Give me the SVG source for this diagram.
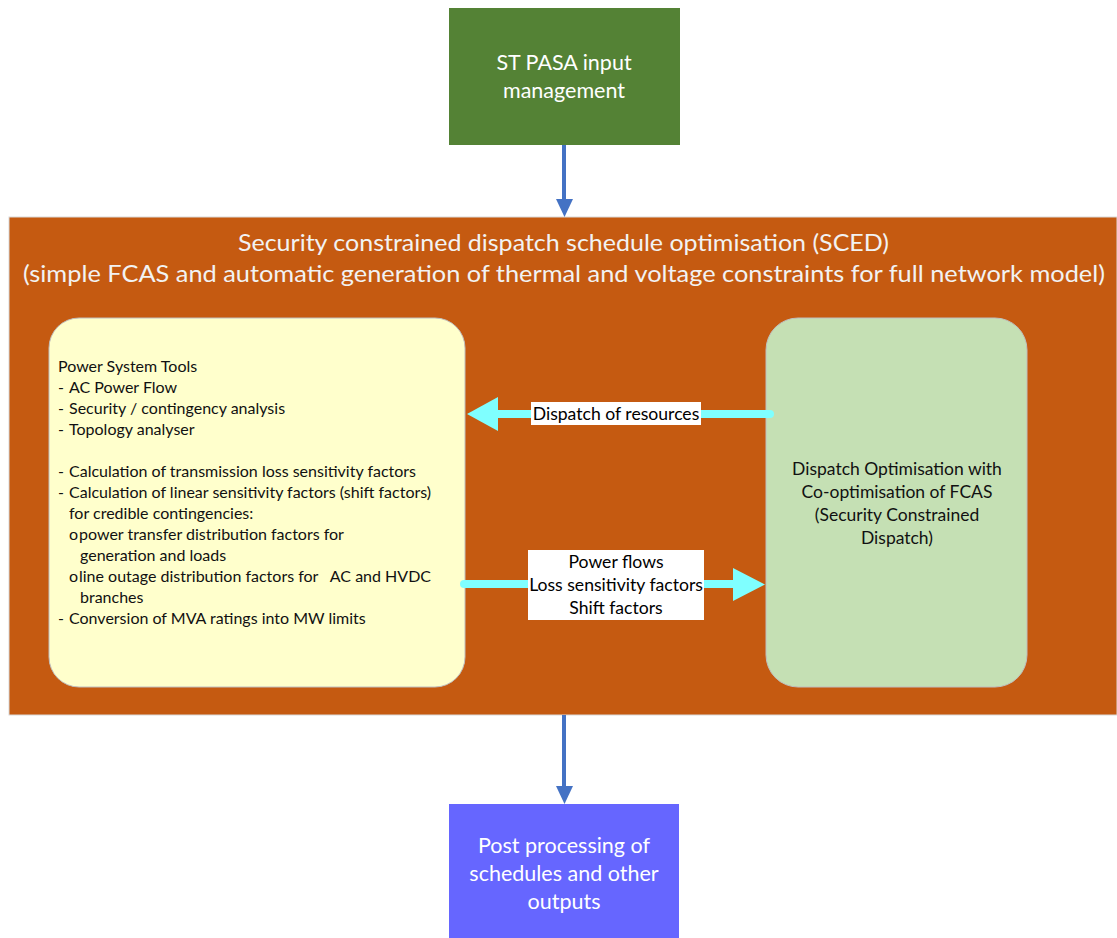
<svg xmlns="http://www.w3.org/2000/svg" width="1117" height="938" viewBox="0 0 1117 938">
<style>
text{font-family:Lato,"Liberation Sans",sans-serif}
.w{fill:#ffffff;font-size:21.5px;text-anchor:middle}
.t{fill:#f2f2f2;font-size:24px;text-anchor:middle}
.l{fill:#111;font-size:16px}
.r{fill:#111;font-size:17.5px;text-anchor:middle}
.c{fill:#000;font-size:17.6px;text-anchor:middle}
.blue{stroke:#4472c4;stroke-width:4;fill:none}
.cy{stroke:#7fffff;stroke-width:8;stroke-linecap:round;fill:none}
</style>
<rect width="1117" height="938" fill="#ffffff"/>
<g id="sced">
<rect x="9" y="217" width="1108" height="498" fill="#c55a11" stroke="#d9d9d9" stroke-width="1"/>
<text class="t" x="563.5" y="251" textLength="651" lengthAdjust="spacingAndGlyphs">Security constrained dispatch schedule optimisation (SCED)</text>
<text class="t" x="564" y="282" textLength="1082" lengthAdjust="spacingAndGlyphs">(simple FCAS and automatic generation of thermal and voltage constraints for full network model)</text>
</g>
<g id="input">
<rect x="449" y="8" width="231" height="137" fill="#548235"/>
<text class="w" x="564" y="70">ST PASA input</text>
<text class="w" x="564" y="98">management</text>
</g>
<g id="tools">
<rect x="49" y="318" width="416" height="369" rx="30" fill="#ffffcc" stroke="#bfbfbf" stroke-width="1"/>
<text class="l" x="58" y="372">Power System Tools</text>
<text class="l" x="58" y="393">-</text><text class="l" x="69" y="393">AC Power Flow</text>
<text class="l" x="58" y="414">-</text><text class="l" x="69" y="414">Security / contingency analysis</text>
<text class="l" x="58" y="435">-</text><text class="l" x="69" y="435">Topology analyser</text>
<text class="l" x="58" y="477">-</text><text class="l" x="69" y="477">Calculation of transmission loss sensitivity factors</text>
<text class="l" x="58" y="498">-</text><text class="l" x="69" y="498">Calculation of linear sensitivity factors (shift factors)</text>
<text class="l" x="69" y="519">for credible contingencies:</text>
<text class="l" x="69" y="540">o</text>
<text class="l" x="79" y="540">power transfer distribution factors for</text>
<text class="l" x="80" y="561">generation and loads</text>
<text class="l" x="69" y="582">o</text>
<text class="l" x="79" y="582" xml:space="preserve">line outage distribution factors for   AC and HVDC</text>
<text class="l" x="80" y="603">branches</text>
<text class="l" x="58" y="624">-</text><text class="l" x="69" y="624">Conversion of MVA ratings into MW limits</text>
</g>
<g id="dispatch">
<rect x="766" y="318" width="261" height="369" rx="32" fill="#c5e0b4" stroke="#bfbfbf" stroke-width="1"/>
<text class="r" x="897" y="475">Dispatch Optimisation with</text>
<text class="r" x="897" y="498">Co-optimisation of FCAS</text>
<text class="r" x="897" y="521">(Security Constrained</text>
<text class="r" x="897" y="544">Dispatch)</text>
</g>
<g id="post">
<rect x="449" y="804" width="230" height="134" fill="#6666ff"/>
<text class="w" x="564" y="853">Post processing of</text>
<text class="w" x="564" y="881">schedules and other</text>
<text class="w" x="564" y="909">outputs</text>
</g>
<g id="connectors">
<line class="blue" x1="564" y1="145" x2="564" y2="200"/>
<polygon points="556,199 573,199 564.5,217" fill="#4472c4"/>
<line class="blue" x1="564" y1="715" x2="564" y2="787"/>
<polygon points="556,786 573,786 564.5,804" fill="#4472c4"/>
<line class="cy" x1="770" y1="414" x2="497" y2="414"/>
<polygon points="498,397 498,431 467,414" fill="#7fffff"/>
<rect x="531" y="402" width="170" height="23" fill="#ffffff"/>
<text class="c" x="616" y="420">Dispatch of resources</text>
<line class="cy" x1="464" y1="584" x2="735" y2="584"/>
<polygon points="733,568 733,601 765,584.5" fill="#7fffff"/>
<rect x="528" y="550" width="176" height="70" fill="#ffffff"/>
<text class="c" x="616" y="568">Power flows</text>
<text class="c" x="616" y="591">Loss sensitivity factors</text>
<text class="c" x="616" y="614">Shift factors</text>
</g>
</svg>
